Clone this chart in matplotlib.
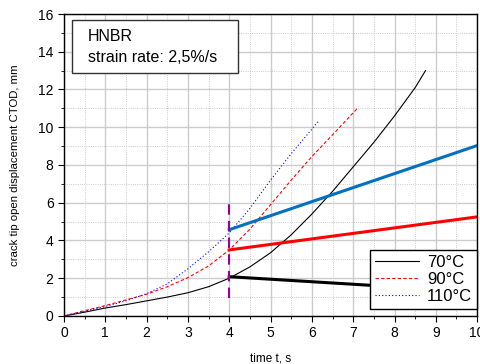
import numpy as np
import matplotlib.pyplot as plt
from matplotlib.ticker import MultipleLocator
from matplotlib.patches import Rectangle

plt.rcParams['font.family'] = ['Liberation Sans', 'DejaVu Sans']

# 70°C curve
t_70 = [0, 0.5, 1, 1.5, 2, 2.5, 3, 3.5, 4, 4.5, 5, 5.5, 6, 6.5, 7, 7.5, 8, 8.5, 8.75]
c_70 = [0, 0.2, 0.42, 0.6, 0.8, 1.0, 1.23, 1.55, 2.0, 2.6, 3.35, 4.3, 5.4, 6.6, 7.9, 9.2, 10.6, 12.1, 13.0]
# 90°C curve
t_90 = [0, 0.5, 1, 1.5, 2, 2.5, 3, 3.5, 4, 4.5, 5, 5.5, 6, 6.5, 7.1]
c_90 = [0, 0.28, 0.55, 0.85, 1.15, 1.55, 2.03, 2.65, 3.5, 4.6, 5.9, 7.2, 8.45, 9.6, 11.0]
# 110°C curve
t_110 = [0, 0.5, 1, 1.5, 2, 2.5, 3, 3.5, 4, 4.5, 5, 5.5, 6, 6.15]
c_110 = [0, 0.25, 0.5, 0.8, 1.18, 1.7, 2.5, 3.4, 4.4, 5.7, 7.2, 8.6, 9.9, 10.3]

# straight fits from t = 4 s
fit_t = [4, 10]
fit_70 = [2.08, 1.28]
fit_90 = [3.5, 5.25]
fit_110 = [4.57, 9.03]

marker_t = 4
marker_y = [0.94, 6.0]

labels = ['70°C', '90°C', '110°C']

fig = plt.figure(figsize=(4.81, 3.64), dpi=100)
ax = fig.add_axes([0.133, 0.132, 0.859, 0.8295])

ax.plot(t_70, c_70, color='black', lw=0.8, label=labels[0])
ax.plot(t_90, c_90, color='red', lw=0.8, ls=(0, (3, 2)), label=labels[1])
ax.plot(t_110, c_110, color='blue', lw=0.8, ls=(0, (1, 2)), label=labels[2])

ax.plot(fit_t, fit_70, color='black', lw=2.2)
ax.plot(fit_t, fit_90, color='red', lw=2.2)
ax.plot(fit_t, fit_110, color='#0070c0', lw=2.2)

ax.plot([marker_t, marker_t], marker_y, color='#990099', lw=1.5, ls=(0, (5, 3)))

ax.set_xlim(0, 10)
ax.set_ylim(0, 16)
ax.xaxis.set_major_locator(MultipleLocator(1))
ax.xaxis.set_minor_locator(MultipleLocator(0.5))
ax.yaxis.set_major_locator(MultipleLocator(2))
ax.yaxis.set_minor_locator(MultipleLocator(1))
ax.grid(which='major', color='#cccccc', lw=1.0)
ax.grid(which='minor', color='#bbbbbb', lw=0.6, ls=':')
ax.set_axisbelow(True)
ax.tick_params(which='major', direction='out', length=4, width=0.8, labelsize=10, colors='black')
ax.tick_params(which='minor', direction='out', length=2, width=0.6)
for sp in ax.spines.values():
    sp.set_linewidth(1.0)

ax.set_xlabel('time t, s', fontsize=8.5, labelpad=9)
ax.set_ylabel('crack tip open displacement CTOD, mm', fontsize=8.2, labelpad=13)

ax.add_patch(Rectangle((0.019, 0.805), 0.402, 0.175, transform=ax.transAxes,
                       facecolor='white', edgecolor='#333333', lw=1.0, zorder=3))
ax.text(0.058, 0.95, 'HNBR\nstrain rate: 2,5%/s', transform=ax.transAxes,
        fontsize=11.5, va='top', ha='left', linespacing=1.45, zorder=4)

leg = ax.legend(loc='lower right', bbox_to_anchor=(1.0, 0.022), borderaxespad=0,
                fontsize=12, fancybox=False, framealpha=1, edgecolor='black',
                handlelength=2.6, borderpad=0.3, labelspacing=0.12, handletextpad=0.5)
leg.get_frame().set_linewidth(1.0)

fig.savefig('out.png', dpi=100)
